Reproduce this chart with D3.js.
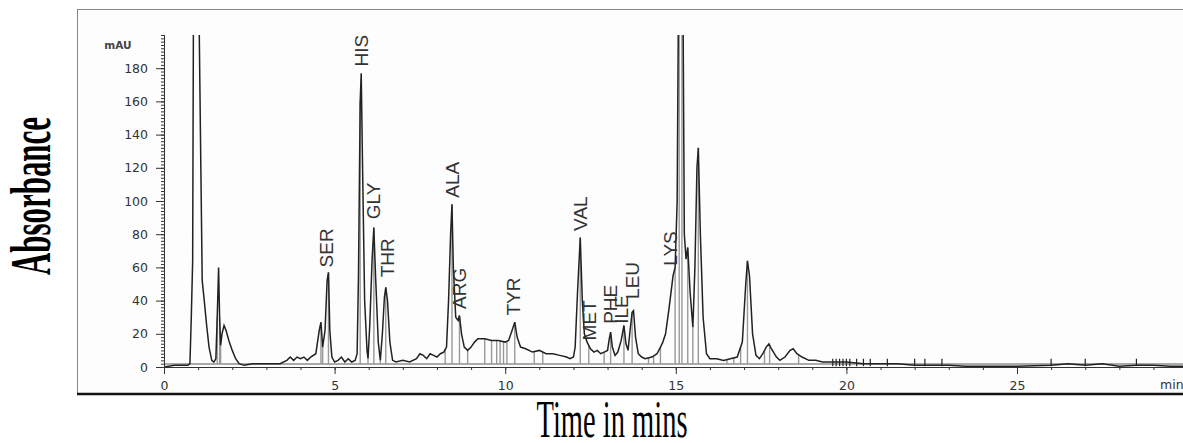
<!DOCTYPE html>
<html>
<head>
  <meta http-equiv="Content-Type" content="text/html;charset=utf-8">
  <title>Amino acid chromatogram</title>
  <script src="https://d3js.org/d3.v7.min.js"></script>
  <style type="text/css">
    body { margin: 0; background: #fff; }
    .tick text { font-family: "DejaVu Sans", sans-serif; font-size: 12.5px; fill: #333; }
    .tick line, .domain { stroke: #333; }
    .peak-label { font-family: "Liberation Sans", Arial, sans-serif; font-size: 19px; fill: #333; }
  </style>
</head>
<body>
  <svg width="1183" height="443"></svg>
  <script type='text/javascript'>
    // retention time (min) and signal (mAU)
    const timeMin = [
      0.0, 0.3, 0.5, 0.7, 0.76, 0.80, 0.84, 0.87, 1.0, 1.08, 1.12, 1.18, 1.25, 1.32, 1.40, 1.46,
      1.52, 1.56, 1.60, 1.63, 1.66, 1.70, 1.76, 1.82, 1.90, 2.0, 2.1, 2.2, 2.35, 2.6, 3.0, 3.4,
      3.6, 3.7, 3.8, 3.9, 4.0, 4.1, 4.2, 4.3, 4.45, 4.55, 4.6, 4.65, 4.72, 4.78, 4.82, 4.86,
      4.92, 5.0, 5.1, 5.2, 5.3, 5.4, 5.5, 5.6, 5.66, 5.70, 5.75, 5.78, 5.82, 5.88, 5.95, 5.98,
      6.03, 6.10, 6.15, 6.20, 6.28, 6.34, 6.40, 6.46, 6.50, 6.55, 6.62, 6.70, 6.8, 7.0, 7.2, 7.4,
      7.5, 7.6, 7.7, 7.8, 7.9, 8.0, 8.1, 8.2, 8.28, 8.34, 8.40, 8.44, 8.48, 8.55, 8.62, 8.66,
      8.72, 8.8, 8.9, 9.0, 9.1, 9.2, 9.4, 9.6, 9.8, 10.0, 10.1, 10.2, 10.28, 10.35, 10.45, 10.6,
      10.8, 11.0, 11.2, 11.4, 11.6, 11.8, 11.9, 12.0, 12.05, 12.12, 12.2, 12.26, 12.32, 12.4, 12.5, 12.6,
      12.7, 12.8, 12.9, 13.0, 13.05, 13.09, 13.14, 13.22, 13.3, 13.4, 13.48, 13.54, 13.6, 13.66, 13.72, 13.76,
      13.82, 13.9, 14.0, 14.1, 14.3, 14.45, 14.55, 14.62, 14.7, 14.8, 14.92, 14.98, 15.04, 15.09, 15.2, 15.25,
      15.3, 15.35, 15.42, 15.5, 15.56, 15.62, 15.66, 15.72, 15.8, 15.9, 16.0, 16.2, 16.4, 16.6, 16.8, 16.95,
      17.05, 17.1, 17.16, 17.25, 17.35, 17.45, 17.55, 17.65, 17.73, 17.8, 17.95, 18.05, 18.2, 18.35, 18.44, 18.55,
      18.7, 18.9, 19.1, 19.3, 19.6, 20.0, 20.5, 21.0, 21.5, 22.0, 22.5, 23.0, 23.5, 24.0, 25.0, 26.0,
      26.5, 27.0, 27.5, 28.0, 28.5, 29.0, 29.5, 30.0
    ];
    const absorbance = [
      0, 1, 1, 1, 2, 30, 64, 260, 260, 120, 52, 40, 25, 12, 4, 3,
      5, 30, 60, 30, 13, 20, 25, 22, 16, 10, 5, 2, 1, 2, 2, 2,
      4, 6, 4, 6, 5, 6, 4, 6, 8, 22, 27, 12, 22, 52, 57, 22,
      6, 3, 4, 6, 3, 5, 3, 4, 8, 55, 160, 177, 120, 40, 10, 5,
      25, 65, 84, 55, 15, 4, 20, 42, 48, 40, 15, 4, 3, 4, 3, 5,
      8, 7, 5, 8, 7, 6, 8, 9, 12, 40, 80, 98, 60, 30, 28, 31,
      20, 12, 10, 12, 15, 17, 17, 16, 16, 15, 16, 22, 27, 18, 12, 11,
      9, 10, 8, 8, 7, 6, 5, 6, 12, 45, 78, 40, 20, 15, 11, 9,
      10, 8, 9, 10, 17, 21, 12, 7, 9, 16, 25, 14, 10, 22, 33, 34,
      18, 8, 6, 5, 6, 8, 12, 15, 20, 35, 55, 60, 100, 260, 260, 80,
      65, 72, 45, 24, 60, 120, 132, 80, 30, 8, 5, 5, 4, 5, 6, 15,
      50, 64, 55, 20, 7, 5, 8, 12, 14, 11, 6, 4, 6, 10, 11, 8,
      6, 4, 4, 3, 3, 3, 2, 2, 2, 1, 1, 1, 0.5, 0.5, 0.5, 1,
      2, 1, 2, 0.5, 1, 1, 0.5, 0.5
    ];

    // integration drop lines (min)
    const dropTimes = [1.56, 1.63, 1.66, 4.6, 4.65, 4.82, 5.75, 5.98, 6.15, 6.34, 6.5,
      8.24, 8.44, 8.66, 8.9, 9.4, 9.6, 9.75, 9.85, 9.95, 10.05, 10.28, 10.85, 11.1,
      12.2, 12.45, 12.9, 13.09, 13.48, 13.72, 14.2, 14.35, 14.55, 14.98, 15.1, 15.18,
      15.35, 15.5, 15.66, 16.5, 16.7, 16.9, 17.1, 17.6, 17.75, 18.6];
    // small event marks on the baseline (min)
    const markTimes = [19.6, 19.7, 19.8, 19.9, 20.0, 20.1, 20.3, 20.5, 20.7, 21.2, 22.0, 22.3, 22.8, 26.0, 27.0, 28.5];

    // peak names, label time and the signal where each label starts
    const peakNames = ['SER', 'HIS', 'GLY', 'THR', 'ALA', 'ARG', 'TYR', 'VAL', 'MET', 'PHE', 'ILE', 'LEU', 'LYS'];
    const labelTime = [4.75, 5.79, 6.13, 6.54, 8.44, 8.65, 10.23, 12.19, 12.46, 13.07, 13.39, 13.72, 14.83];
    const labelBase = [60, 181, 89, 54, 102, 35, 31, 82, 16, 26, 26, 41, 61];

    const xTicks = [0, 5, 10, 15, 20, 25];
    const yTicks = [0, 20, 40, 60, 80, 100, 120, 140, 160, 180];

    const svg = d3.select('svg');
    const width = +svg.attr('width');

    const x = d3.scaleLinear().domain([0, 30]).range([164, 1187.6]);
    const y = d3.scaleLinear().domain([0, 200]).range([367, 35]);

    // frame
    svg.append('rect')
      .attr('x', 77.5).attr('y', 9.5)
      .attr('width', width).attr('height', 384)
      .attr('fill', '#fdfdfd').attr('stroke', '#888');
    svg.append('line')
      .attr('x1', 77).attr('x2', width)
      .attr('y1', 394).attr('y2', 394)
      .attr('stroke', '#111').attr('stroke-width', 2.5);

    svg.append('clipPath').attr('id', 'plot')
      .append('rect')
        .attr('x', x(0)).attr('y', y(200))
        .attr('width', width - x(0)).attr('height', y(0) - y(200) + 2);

    // baseline
    svg.append('line')
      .attr('x1', x(0)).attr('x2', width)
      .attr('y1', y(1.8)).attr('y2', y(1.8))
      .attr('stroke', '#aaa').attr('stroke-width', 2);

    const pts = timeMin.map((t, i) => [t, absorbance[i]]);
    const valueAt = d3.scaleLinear().domain(timeMin).range(absorbance);

    const plot = svg.append('g').attr('clip-path', 'url(#plot)');

    plot.selectAll('line.drop')
      .data(dropTimes)
      .enter().append('line')
        .attr('class', 'drop')
        .attr('x1', (t) => x(t)).attr('x2', (t) => x(t))
        .attr('y1', y(1.8))
        .attr('y2', (t) => y(valueAt(t)))
        .attr('stroke', '#999').attr('stroke-width', 1.4);

    plot.append('path')
      .datum(pts)
      .attr('fill', 'none')
      .attr('stroke', '#222')
      .attr('stroke-width', 1.5)
      .attr('d', d3.line().x((d) => x(d[0])).y((d) => y(d[1])));

    svg.selectAll('line.mark')
      .data(markTimes)
      .enter().append('line')
        .attr('class', 'mark')
        .attr('x1', (t) => x(t)).attr('x2', (t) => x(t))
        .attr('y1', y(5)).attr('y2', y(0.5))
        .attr('stroke', '#222').attr('stroke-width', 1.2);

    // axes
    svg.append('g')
      .attr('transform', `translate(0,${y(0)})`)
      .call(d3.axisBottom(x).tickValues(d3.range(0, 31, 1)).tickSize(3).tickFormat(''))
      .call((g) => g.select('.domain').remove());
    svg.append('g')
      .attr('transform', `translate(0,${y(0)})`)
      .call(d3.axisBottom(x).tickValues(xTicks).tickSize(7).tickPadding(7).tickFormat(d3.format('d')))
      .call((g) => g.select('.domain').attr('d', `M${x(0) - 4},0.5H${width}`));

    svg.append('g')
      .attr('transform', `translate(${x(0)},0)`)
      .call(d3.axisLeft(y).tickValues(d3.range(0, 201, 2)).tickSize(3).tickFormat(''))
      .call((g) => g.select('.domain').remove());
    svg.append('g')
      .attr('transform', `translate(${x(0)},0)`)
      .call(d3.axisLeft(y).tickValues(yTicks).tickSize(8).tickPadding(8).tickFormat(d3.format('d')))
      .call((g) => g.select('.domain').attr('d', `M0.5,${y(0)}V${y(200)}`));

    svg.append('text')
      .attr('x', 118).attr('y', 49)
      .attr('text-anchor', 'middle')
      .style('font-family', '"DejaVu Sans", sans-serif')
      .style('font-size', '10.5px').style('font-weight', 'bold')
      .attr('fill', '#444')
      .text('mAU');
    svg.append('text')
      .attr('x', 1160).attr('y', 389)
      .style('font-family', '"DejaVu Sans", sans-serif')
      .style('font-size', '12.5px')
      .attr('fill', '#333')
      .text('min');

    // peak labels
    svg.selectAll('text.peak-label')
      .data(peakNames)
      .enter().append('text')
        .attr('class', 'peak-label')
        .attr('transform', (d, i) => `translate(${x(labelTime[i])},${y(labelBase[i])}) rotate(-90)`)
        .attr('dy', '0.35em')
        .text((d) => d);

    // axis titles, narrow and tall like the original figure
    function squeezed(label, cx, cy, angle, size, target, weight) {
      const t = svg.append('text')
        .attr('text-anchor', 'middle')
        .style('font-family', '"Liberation Serif", "Times New Roman", serif')
        .style('font-size', size + 'px')
        .style('font-weight', weight)
        .attr('fill', '#000')
        .text(label);
      const w = t.node().getBBox().width;
      t.attr('transform', `translate(${cx},${cy}) rotate(${angle}) scale(${target / w},1)`);
    }
    squeezed('Absorbance', 50, 196, -90, 56, 158, 'bold');
    squeezed('Time in mins', 612, 437, 0, 52, 151, 'normal');
  </script>
</body>
</html>
